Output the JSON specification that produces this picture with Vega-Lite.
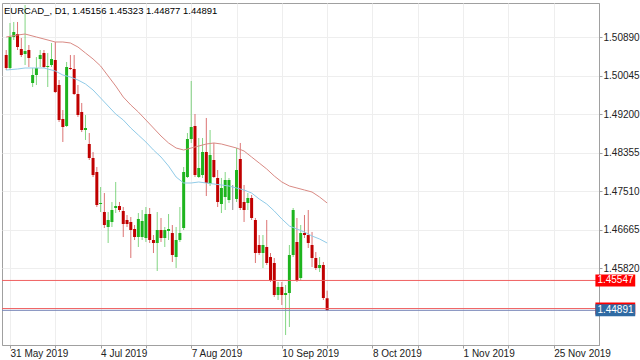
{
  "$schema": "https://vega.github.io/schema/vega-lite/v6.json",
  "width": 597,
  "height": 342,
  "autosize": {"type": "none"},
  "padding": {"left": 2, "top": 3, "right": 41, "bottom": 15},
  "background": "white",
  "config": {
    "font": "Liberation Sans",
    "view": {"stroke": "#a0a0a0", "strokeWidth": 1}
  },
  "title": {
    "text": "EURCAD_, D1, 1.45156 1.45323 1.44877 1.44891",
    "anchor": "start",
    "frame": "group",
    "offset": -12,
    "dx": 2,
    "fontSize": 9.5,
    "fontWeight": "normal",
    "color": "#000000",
    "font": "Liberation Sans"
  },
  "datasets": {
    "bars": [
      {"i":0,"d":"2019-05-30","o":1.50495,"h":1.50605,"l":1.50166,"c":1.50210},
      {"i":1,"d":"2019-05-31","o":1.50210,"h":1.51198,"l":1.50166,"c":1.50890},
      {"i":2,"d":"2019-06-03","o":1.50890,"h":1.51220,"l":1.50825,"c":1.51000},
      {"i":3,"d":"2019-06-04","o":1.50956,"h":1.51220,"l":1.50605,"c":1.50671},
      {"i":4,"d":"2019-06-05","o":1.50627,"h":1.50869,"l":1.50451,"c":1.50495},
      {"i":5,"d":"2019-06-06","o":1.50517,"h":1.51593,"l":1.50276,"c":1.50583},
      {"i":6,"d":"2019-06-07","o":1.50605,"h":1.50715,"l":1.50232,"c":1.50430},
      {"i":7,"d":"2019-06-10","o":1.49881,"h":1.50210,"l":1.49793,"c":1.50056},
      {"i":8,"d":"2019-06-11","o":1.50056,"h":1.50451,"l":1.49837,"c":1.50210},
      {"i":9,"d":"2019-06-12","o":1.50408,"h":1.50605,"l":1.50232,"c":1.50495},
      {"i":10,"d":"2019-06-13","o":1.50539,"h":1.50605,"l":1.50210,"c":1.50232},
      {"i":11,"d":"2019-06-14","o":1.50232,"h":1.50539,"l":1.49793,"c":1.50254},
      {"i":12,"d":"2019-06-17","o":1.50276,"h":1.50759,"l":1.50232,"c":1.50408},
      {"i":13,"d":"2019-06-18","o":1.50386,"h":1.50781,"l":1.49661,"c":1.49683},
      {"i":14,"d":"2019-06-19","o":1.49837,"h":1.49947,"l":1.49025,"c":1.49069},
      {"i":15,"d":"2019-06-20","o":1.49091,"h":1.49288,"l":1.48586,"c":1.48915},
      {"i":16,"d":"2019-06-21","o":1.48937,"h":1.50342,"l":1.48915,"c":1.50232},
      {"i":17,"d":"2019-06-24","o":1.50210,"h":1.50495,"l":1.50166,"c":1.50188},
      {"i":18,"d":"2019-06-25","o":1.50188,"h":1.50495,"l":1.49617,"c":1.49639},
      {"i":19,"d":"2019-06-26","o":1.49639,"h":1.49837,"l":1.49134,"c":1.49178},
      {"i":20,"d":"2019-06-27","o":1.49244,"h":1.49442,"l":1.48805,"c":1.48849},
      {"i":21,"d":"2019-06-28","o":1.48849,"h":1.49178,"l":1.48630,"c":1.48893},
      {"i":22,"d":"2019-07-01","o":1.48542,"h":1.48783,"l":1.48191,"c":1.48235},
      {"i":23,"d":"2019-07-02","o":1.48235,"h":1.48366,"l":1.47817,"c":1.47861},
      {"i":24,"d":"2019-07-03","o":1.47927,"h":1.48037,"l":1.47159,"c":1.47203},
      {"i":25,"d":"2019-07-04","o":1.47225,"h":1.47598,"l":1.47049,"c":1.47247},
      {"i":26,"d":"2019-07-05","o":1.47049,"h":1.47466,"l":1.46698,"c":1.46764},
      {"i":27,"d":"2019-07-08","o":1.46720,"h":1.47049,"l":1.46369,"c":1.46874},
      {"i":28,"d":"2019-07-09","o":1.46830,"h":1.47269,"l":1.46720,"c":1.47093},
      {"i":29,"d":"2019-07-10","o":1.47137,"h":1.47708,"l":1.47027,"c":1.47181},
      {"i":30,"d":"2019-07-11","o":1.47181,"h":1.47269,"l":1.47049,"c":1.47093},
      {"i":31,"d":"2019-07-12","o":1.47071,"h":1.47159,"l":1.46500,"c":1.46786},
      {"i":32,"d":"2019-07-15","o":1.46874,"h":1.46983,"l":1.46720,"c":1.46786},
      {"i":33,"d":"2019-07-16","o":1.46830,"h":1.46939,"l":1.46040,"c":1.46654},
      {"i":34,"d":"2019-07-17","o":1.46676,"h":1.46764,"l":1.46435,"c":1.46500},
      {"i":35,"d":"2019-07-18","o":1.46500,"h":1.47027,"l":1.46281,"c":1.46896},
      {"i":36,"d":"2019-07-19","o":1.46500,"h":1.47093,"l":1.46435,"c":1.46852},
      {"i":37,"d":"2019-07-22","o":1.46479,"h":1.47159,"l":1.46391,"c":1.47005},
      {"i":38,"d":"2019-07-23","o":1.47005,"h":1.47137,"l":1.46369,"c":1.46435},
      {"i":39,"d":"2019-07-24","o":1.46435,"h":1.46544,"l":1.46149,"c":1.46369},
      {"i":40,"d":"2019-07-25","o":1.46369,"h":1.47049,"l":1.45754,"c":1.46654},
      {"i":41,"d":"2019-07-26","o":1.46654,"h":1.46918,"l":1.46391,"c":1.46479},
      {"i":42,"d":"2019-07-29","o":1.46479,"h":1.46720,"l":1.46281,"c":1.46654},
      {"i":43,"d":"2019-07-30","o":1.46632,"h":1.47005,"l":1.46435,"c":1.46676},
      {"i":44,"d":"2019-07-31","o":1.46588,"h":1.46764,"l":1.45952,"c":1.46105},
      {"i":45,"d":"2019-08-01","o":1.46061,"h":1.46720,"l":1.45820,"c":1.46435},
      {"i":46,"d":"2019-08-02","o":1.46435,"h":1.47159,"l":1.46391,"c":1.46588},
      {"i":47,"d":"2019-08-05","o":1.46698,"h":1.48037,"l":1.46654,"c":1.47927},
      {"i":48,"d":"2019-08-06","o":1.47817,"h":1.48783,"l":1.47796,"c":1.48652},
      {"i":49,"d":"2019-08-07","o":1.48652,"h":1.49925,"l":1.48564,"c":1.48915},
      {"i":50,"d":"2019-08-08","o":1.48937,"h":1.49200,"l":1.47817,"c":1.47861},
      {"i":51,"d":"2019-08-09","o":1.47817,"h":1.48674,"l":1.47796,"c":1.48015},
      {"i":52,"d":"2019-08-12","o":1.47861,"h":1.48674,"l":1.47796,"c":1.48366},
      {"i":53,"d":"2019-08-13","o":1.48366,"h":1.49113,"l":1.47400,"c":1.47686},
      {"i":54,"d":"2019-08-14","o":1.47664,"h":1.48849,"l":1.47620,"c":1.48300},
      {"i":55,"d":"2019-08-15","o":1.48191,"h":1.48564,"l":1.47796,"c":1.47817},
      {"i":56,"d":"2019-08-16","o":1.47796,"h":1.47971,"l":1.47159,"c":1.47269},
      {"i":57,"d":"2019-08-19","o":1.47225,"h":1.47796,"l":1.47027,"c":1.47576},
      {"i":58,"d":"2019-08-20","o":1.47378,"h":1.47927,"l":1.47093,"c":1.47752},
      {"i":59,"d":"2019-08-21","o":1.47313,"h":1.47796,"l":1.47247,"c":1.47752},
      {"i":60,"d":"2019-08-22","o":1.47346,"h":1.47642,"l":1.47093,"c":1.47346},
      {"i":61,"d":"2019-08-23","o":1.47335,"h":1.48454,"l":1.47269,"c":1.47971},
      {"i":62,"d":"2019-08-26","o":1.48213,"h":1.48564,"l":1.47093,"c":1.47137},
      {"i":63,"d":"2019-08-27","o":1.47269,"h":1.47642,"l":1.46830,"c":1.47093},
      {"i":64,"d":"2019-08-28","o":1.47247,"h":1.47466,"l":1.47093,"c":1.47357},
      {"i":65,"d":"2019-08-29","o":1.47357,"h":1.47422,"l":1.46874,"c":1.46918},
      {"i":66,"d":"2019-08-30","o":1.46874,"h":1.46918,"l":1.45930,"c":1.46149},
      {"i":67,"d":"2019-09-02","o":1.46325,"h":1.46544,"l":1.46105,"c":1.46149},
      {"i":68,"d":"2019-09-03","o":1.46149,"h":1.46544,"l":1.45820,"c":1.46325},
      {"i":69,"d":"2019-09-04","o":1.46281,"h":1.46874,"l":1.45886,"c":1.45930},
      {"i":70,"d":"2019-09-05","o":1.46061,"h":1.46149,"l":1.45513,"c":1.45557},
      {"i":71,"d":"2019-09-06","o":1.45930,"h":1.46040,"l":1.45183,"c":1.45227},
      {"i":72,"d":"2019-09-09","o":1.45227,"h":1.45513,"l":1.45118,"c":1.45403},
      {"i":73,"d":"2019-09-10","o":1.45403,"h":1.45513,"l":1.45008,"c":1.45227},
      {"i":74,"d":"2019-09-11","o":1.45227,"h":1.45447,"l":1.44349,"c":1.45271},
      {"i":75,"d":"2019-09-12","o":1.45271,"h":1.46325,"l":1.44525,"c":1.46105},
      {"i":76,"d":"2019-09-13","o":1.46105,"h":1.47137,"l":1.46061,"c":1.47093},
      {"i":77,"d":"2019-09-16","o":1.46391,"h":1.46918,"l":1.45513,"c":1.45557},
      {"i":78,"d":"2019-09-17","o":1.45601,"h":1.46764,"l":1.45557,"c":1.46588},
      {"i":79,"d":"2019-09-18","o":1.46588,"h":1.46983,"l":1.46479,"c":1.46544},
      {"i":80,"d":"2019-09-19","o":1.46544,"h":1.47093,"l":1.46259,"c":1.46369},
      {"i":81,"d":"2019-09-20","o":1.46325,"h":1.46610,"l":1.45842,"c":1.46040},
      {"i":82,"d":"2019-09-23","o":1.46040,"h":1.46171,"l":1.45776,"c":1.45820},
      {"i":83,"d":"2019-09-24","o":1.45820,"h":1.46061,"l":1.45732,"c":1.45886},
      {"i":84,"d":"2019-09-25","o":1.45886,"h":1.45952,"l":1.45118,"c":1.45161},
      {"i":85,"d":"2019-09-26","o":1.45156,"h":1.45323,"l":1.44877,"c":1.44891}
    ],
    "ma": [
      {"i":0,"r":1.50890,"b":1.50166},
      {"i":3,"r":1.50934,"b":1.50188},
      {"i":5,"r":1.50956,"b":1.50210},
      {"i":8,"r":1.50890,"b":1.50210},
      {"i":10,"r":1.50847,"b":1.50210},
      {"i":13,"r":1.50781,"b":1.50144},
      {"i":15,"r":1.50781,"b":1.50056},
      {"i":17,"r":1.50759,"b":1.50012},
      {"i":19,"r":1.50671,"b":1.49947},
      {"i":21,"r":1.50539,"b":1.49859},
      {"i":23,"r":1.50408,"b":1.49727},
      {"i":25,"r":1.50254,"b":1.49552},
      {"i":27,"r":1.50034,"b":1.49376},
      {"i":29,"r":1.49815,"b":1.49200},
      {"i":31,"r":1.49573,"b":1.49069},
      {"i":33,"r":1.49398,"b":1.48893},
      {"i":35,"r":1.49244,"b":1.48739},
      {"i":37,"r":1.49069,"b":1.48586},
      {"i":39,"r":1.48893,"b":1.48410},
      {"i":41,"r":1.48717,"b":1.48256},
      {"i":43,"r":1.48564,"b":1.48059},
      {"i":45,"r":1.48454,"b":1.47817},
      {"i":47,"r":1.48410,"b":1.47686},
      {"i":49,"r":1.48454,"b":1.47686},
      {"i":51,"r":1.48498,"b":1.47708},
      {"i":53,"r":1.48542,"b":1.47686},
      {"i":55,"r":1.48564,"b":1.47664},
      {"i":57,"r":1.48542,"b":1.47642},
      {"i":59,"r":1.48498,"b":1.47620},
      {"i":61,"r":1.48454,"b":1.47576},
      {"i":63,"r":1.48388,"b":1.47532},
      {"i":65,"r":1.48256,"b":1.47466},
      {"i":67,"r":1.48125,"b":1.47335},
      {"i":69,"r":1.47993,"b":1.47225},
      {"i":71,"r":1.47839,"b":1.47071},
      {"i":73,"r":1.47708,"b":1.46896},
      {"i":75,"r":1.47620,"b":1.46742},
      {"i":77,"r":1.47576,"b":1.46676},
      {"i":79,"r":1.47532,"b":1.46610},
      {"i":81,"r":1.47488,"b":1.46522},
      {"i":83,"r":1.47378,"b":1.46457},
      {"i":85,"r":1.47247,"b":1.46369}
    ],
    "lvl": [
      {"p":1.45547,"k":"line"},
      {"p":1.44930,"k":"line2"},
      {"p":1.44891,"k":"bid"}
    ]
  },
  "encoding": {
    "x": {
      "type": "quantitative",
      "scale": {"domain": [0.21, 155.68], "nice": false, "zero": false},
      "axis": {
        "orient": "bottom",
        "title": null,
        "values": [1, 13, 25, 37, 49, 61, 73, 85, 97, 109, 121, 133, 145],
        "labelExpr": "(datum.value - 1) % 24 == 0 ? ['31 May 2019','4 Jul 2019','7 Aug 2019','10 Sep 2019','8 Oct 2019','1 Nov 2019','25 Nov 2019'][(datum.value - 1) / 24] : ''",
        "labelAlign": "left",
        "labelFlush": false,
        "labelOverlap": false,
        "labelBound": false,
        "labelFontSize": 10,
        "labelColor": "#222222",
        "labelPadding": 0,
        "tickSize": 3,
        "tickColor": "#a0a0a0",
        "domainColor": "#a0a0a0",
        "grid": true,
        "gridColor": "#eeeeee"
      }
    },
    "y": {
      "type": "quantitative",
      "scale": {"domain": [1.4413, 1.51637], "nice": false, "zero": false},
      "axis": {
        "orient": "right",
        "title": null,
        "values": [1.4582, 1.46665, 1.4751, 1.48355, 1.492, 1.50045, 1.5089],
        "format": ".5f",
        "labelFontSize": 10,
        "labelColor": "#222222",
        "labelPadding": 1,
        "tickSize": 3,
        "tickColor": "#a0a0a0",
        "domainColor": "#a0a0a0",
        "grid": true,
        "gridColor": "#eeeeee"
      }
    }
  },
  "layer": [
    {
      "data": {"name": "bars"},
      "mark": {"type": "rule", "clip": true, "strokeWidth": 1, "opacity": 0.55},
      "encoding": {
        "x": {"field": "i"},
        "y": {"field": "l"},
        "y2": {"field": "h"},
        "color": {
          "condition": [
            {"test": "datum.c > datum.o", "value": "#1eb41e"},
            {"test": "datum.c < datum.o", "value": "#c00000"}
          ],
          "value": "#333333"
        }
      }
    },
    {
      "data": {"name": "bars"},
      "mark": {"type": "bar", "clip": true, "size": 3},
      "encoding": {
        "x": {"field": "i"},
        "y": {"field": "o"},
        "y2": {"field": "c"},
        "color": {
          "condition": [
            {"test": "datum.c > datum.o", "value": "#1eb41e"},
            {"test": "datum.c < datum.o", "value": "#c00000"}
          ],
          "value": "#333333"
        }
      }
    },
    {
      "data": {"name": "ma"},
      "mark": {"type": "line", "clip": true, "strokeWidth": 1, "color": "#d98a84"},
      "encoding": {
        "x": {"field": "i"},
        "y": {"field": "r"}
      }
    },
    {
      "data": {"name": "ma"},
      "mark": {"type": "line", "clip": true, "strokeWidth": 1, "color": "#90cbe8"},
      "encoding": {
        "x": {"field": "i"},
        "y": {"field": "b"}
      }
    },
    {
      "data": {"name": "lvl"},
      "transform": [{"filter": "datum.k != 'bid'"}],
      "mark": {"type": "rule", "strokeWidth": 1, "color": "#f06060"},
      "encoding": {
        "x": null,
        "y": {"field": "p"}
      }
    },
    {
      "data": {"name": "lvl"},
      "transform": [{"filter": "datum.k == 'bid'"}],
      "mark": {"type": "rule", "strokeWidth": 1, "color": "#7886b8"},
      "encoding": {
        "x": null,
        "y": {"field": "p"}
      }
    },
    {
      "data": {"name": "lvl"},
      "transform": [{"filter": "datum.k != 'bid'"}],
      "mark": {"type": "rule", "strokeWidth": 12, "strokeCap": "butt", "color": "#ff0000", "clip": false},
      "encoding": {
        "x": {"datum": 156.05},
        "x2": {"datum": 166.6},
        "y": {"field": "p"}
      }
    },
    {
      "data": {"name": "lvl"},
      "transform": [{"filter": "datum.k == 'line'"}],
      "mark": {"type": "text", "align": "left", "baseline": "middle", "fontSize": 10, "color": "#ffffff", "dx": 2, "clip": false},
      "encoding": {
        "x": {"datum": 156.05},
        "y": {"field": "p"},
        "text": {"field": "p", "type": "quantitative", "format": ".5f"}
      }
    },
    {
      "data": {"name": "lvl"},
      "transform": [{"filter": "datum.k == 'bid'"}],
      "mark": {"type": "rule", "strokeWidth": 12, "strokeCap": "butt", "color": "#2f6aa3", "clip": false},
      "encoding": {
        "x": {"datum": 156.05},
        "x2": {"datum": 166.6},
        "y": {"field": "p"}
      }
    },
    {
      "data": {"name": "lvl"},
      "transform": [{"filter": "datum.k == 'bid'"}],
      "mark": {"type": "text", "align": "left", "baseline": "middle", "fontSize": 10, "color": "#ffffff", "dx": 2, "clip": false},
      "encoding": {
        "x": {"datum": 156.05},
        "y": {"field": "p"},
        "text": {"field": "p", "type": "quantitative", "format": ".5f"}
      }
    }
  ]
}
